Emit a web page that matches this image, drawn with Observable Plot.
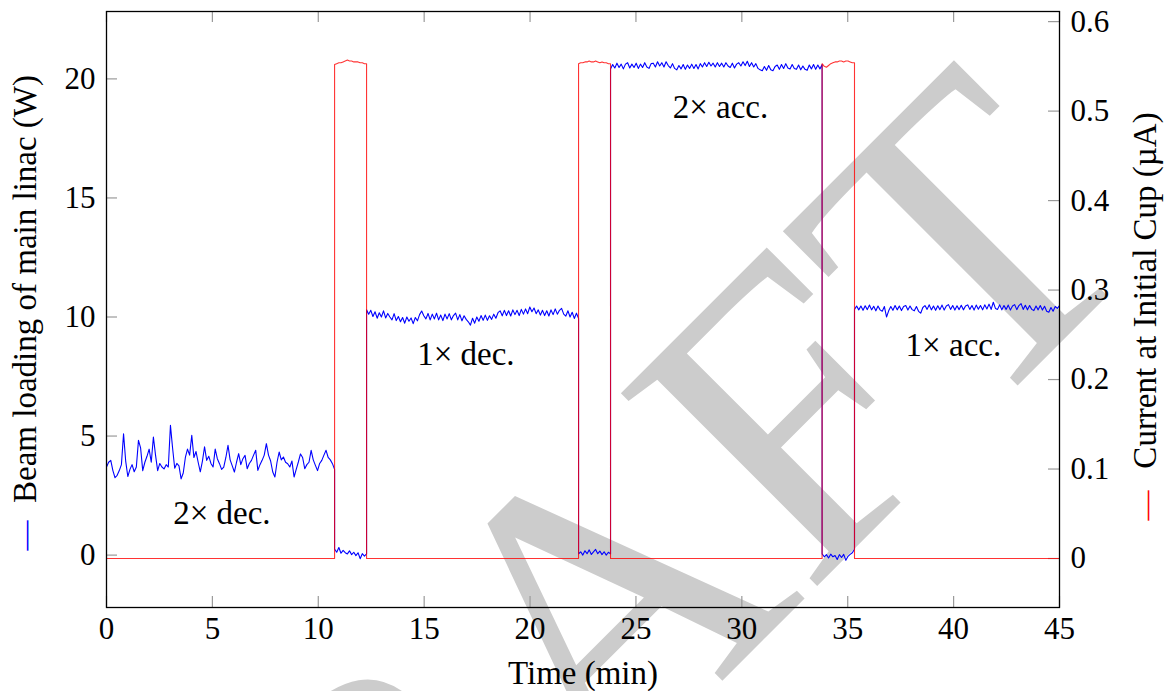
<!DOCTYPE html>
<html>
<head>
<meta charset="utf-8">
<script src="https://cdn.jsdelivr.net/npm/d3@7"></script>
<script src="https://cdn.jsdelivr.net/npm/@observablehq/plot@0.6"></script>
<style>
  html, body { margin: 0; padding: 0; background: #ffffff; }
  #chart { width: 1169px; height: 691px; }
</style>
</head>
<body>
<div id="chart"></div>
<script>
// ---------- axes / ticks ----------
const xTicks = [0, 5, 10, 15, 20, 25, 30, 35, 40, 45];
const leftTicks = [0, 5, 10, 15, 20];
const rightTicks = [0, 0.1, 0.2, 0.3, 0.4, 0.5, 0.6];
const xDomain = [0, 45];
const yDomain = [-2.2, 22.83];           // W (left axis)
const rightScale = 37.58;                // W per µA
const rightOffset = -0.143;              // W at 0 µA

// ---------- labels ----------
const xLabel = "Time (min)";
const leftLabel = "Beam loading of main linac (W)";
const rightLabel = "Current at Initial Cup (µA)";
const watermark = ["DRAFT"];
const annotText = ["2× dec.", "1× dec.", "2× acc.", "1× acc."];
const annotX = [5.45, 16.97, 28.99, 39.99];
const annotY = [1.74, 8.42, 18.78, 8.80];

// ---------- transition times (min) ----------
const tOn1 = 10.77, tOff1 = 12.28;
const tOn2 = 22.29, tOff2 = 23.80;
const tOn3 = 33.79, tOff3 = 35.32;

// ---------- blue: beam loading (W), read segment by segment ----------
const blueSeg1 = [3.70,3.90,3.98,3.55,3.25,3.35,3.55,3.80,5.10,3.95,3.30,3.60,3.80,3.50,3.70,4.82,4.50,3.55,3.90,4.15,
  4.45,3.90,4.96,4.20,3.55,3.85,3.70,3.62,3.80,3.70,5.45,4.50,3.65,3.85,3.75,3.20,3.45,4.10,4.45,4.20,
  5.03,4.10,4.35,3.90,3.50,3.95,4.55,3.98,4.15,3.85,3.70,4.45,4.05,3.84,3.60,3.70,4.10,4.61,4.00,3.75,
  3.49,3.90,4.26,3.80,4.05,4.19,3.63,3.85,3.98,4.20,4.40,3.56,3.80,3.98,4.20,4.68,4.20,3.95,3.49,3.28,
  3.90,4.33,4.00,4.12,3.90,3.84,3.70,3.95,3.28,3.60,3.91,4.25,4.10,3.63,3.80,3.90,4.40,4.00,3.77,3.55,
  3.85,3.98,4.20,4.40,4.10,4.00,3.84,3.60];
const bluePulse1 = [0.25,0.12,0.32,0.08,0.20,0.10,0.05,0.18,0.02,0.12,-0.02,0.10,-0.15,0.06,-0.04,0.05];
const blueSeg2 = [10.30,10.12,10.28,10.02,10.22,9.95,10.18,10.00,10.26,9.96,
  10.15,10.00,9.88,10.14,9.85,10.02,9.80,9.98,9.74,10.00,
  9.82,9.96,9.72,9.98,9.84,10.10,10.25,10.05,9.92,10.15,
  9.88,10.12,9.92,10.16,9.88,10.08,9.85,10.12,9.92,10.14,
  9.88,10.06,10.16,9.88,10.10,9.84,10.05,9.90,9.80,9.66,
  9.95,9.74,10.00,9.82,10.06,9.86,10.08,9.86,10.05,9.90,
  10.12,9.95,10.18,10.26,10.05,10.28,10.06,10.26,10.04,10.30,
  10.10,10.28,10.06,10.32,10.12,10.34,10.14,10.42,10.22,10.38,
  10.14,10.30,10.08,10.28,10.06,10.26,10.04,10.30,10.10,10.34,
  10.12,10.28,10.36,10.12,10.04,10.26,10.00,10.20,9.94,10.16,9.95];
const bluePulse2 = [0.05,0.14,0.00,0.18,0.06,0.22,0.03,0.14,0.24,0.06,0.17,0.02,0.14,0.00,0.12,0.05];
const blueSeg3 = [20.42,20.60,20.46,20.66,20.48,20.62,20.42,20.62,20.68,20.46,
  20.62,20.48,20.66,20.44,20.62,20.48,20.68,20.50,20.44,20.64,
  20.66,20.50,20.72,20.54,20.68,20.50,20.72,20.56,20.46,20.64,
  20.44,20.38,20.56,20.42,20.60,20.40,20.58,20.44,20.62,20.44,
  20.60,20.42,20.64,20.50,20.68,20.52,20.70,20.54,20.66,20.50,
  20.68,20.52,20.66,20.50,20.68,20.54,20.48,20.66,20.46,20.62,
  20.68,20.54,20.72,20.56,20.74,20.52,20.68,20.50,20.64,20.44,
  20.38,20.34,20.52,20.36,20.56,20.38,20.34,20.52,20.58,20.40,
  20.60,20.44,20.64,20.46,20.42,20.60,20.44,20.40,20.58,20.38,
  20.54,20.40,20.36,20.58,20.42,20.60,20.40,20.58,20.42,20.60];
const bluePulse3 = [0.05,-0.07,0.02,-0.12,0.04,-0.07,-0.02,-0.18,0.02,-0.10,0.03,-0.22,-0.05,0.03,0.10,0.25];
const blueSeg4 = [10.32,10.46,10.30,10.46,10.28,10.47,10.31,10.50,10.30,10.45,
  10.26,10.46,10.30,10.24,10.44,10.00,10.26,10.44,10.28,10.48,
  10.30,10.46,10.27,10.44,10.48,10.29,10.46,10.31,10.26,10.44,
  10.24,10.16,10.40,10.48,10.32,10.51,10.30,10.46,10.28,10.47,
  10.31,10.50,10.29,10.46,10.52,10.32,10.48,10.29,10.47,10.31,
  10.49,10.30,10.46,10.51,10.32,10.48,10.29,10.50,10.33,10.48,
  10.30,10.51,10.34,10.54,10.32,10.62,10.36,10.32,10.51,10.30,
  10.48,10.32,10.50,10.29,10.46,10.52,10.31,10.48,10.56,10.32,
  10.49,10.30,10.48,10.32,10.27,10.46,10.30,10.48,10.29,10.45,
  10.24,10.20,10.40,10.24,10.44,10.36,10.48];

// ---------- red: current at initial cup (µA) ----------
const redBase = 0;
const redPulse1 = [0.552,0.553,0.554,0.554,0.555,0.556,0.557,0.556,0.556,0.555,0.555,0.555,0.554,0.554,0.553,0.553];
const redPulse2 = [0.553,0.554,0.554,0.555,0.555,0.556,0.555,0.555,0.556,0.555,0.554,0.555,0.554,0.554,0.553,0.553];
const redPulse3 = [0.553,0.550,0.549,0.551,0.553,0.554,0.555,0.555,0.556,0.556,0.555,0.556,0.556,0.555,0.554,0.554];

// ---------- build tables ----------
function seg(t0, t1, vals, key) {
  const n = vals.length;
  return vals.map((v, i) => ({ t: t0 + (t1 - t0) * i / (n - 1), [key]: v }));
}
const blueData = [
  ...seg(0, tOn1, blueSeg1, "w"),
  ...seg(tOn1, tOff1, bluePulse1, "w"),
  ...seg(tOff1, tOn2, blueSeg2, "w"),
  ...seg(tOn2, tOff2, bluePulse2, "w"),
  ...seg(tOff2, tOn3, blueSeg3, "w"),
  ...seg(tOn3, tOff3, bluePulse3, "w"),
  ...seg(tOff3, 45, blueSeg4, "w")
];
const redData = [
  { t: 0, v: redBase }, { t: tOn1, v: redBase },
  ...seg(tOn1, tOff1, redPulse1, "v"),
  { t: tOff1, v: redBase }, { t: tOn2, v: redBase },
  ...seg(tOn2, tOff2, redPulse2, "v"),
  { t: tOff2, v: redBase }, { t: tOn3, v: redBase },
  ...seg(tOn3, tOff3, redPulse3, "v"),
  { t: tOff3, v: redBase }, { t: 45, v: redBase }
];
const toW = v => rightScale * v + rightOffset;
const annots = annotText.map((s, i) => ({ s, x: annotX[i], y: annotY[i] }));

// ---------- layout ----------
const W = 1169, H = 691, mL = 106, mR = 110, mT = 11, mB = 84;
const tickPx = 11;
const xPerPx = (xDomain[1] - xDomain[0]) / (W - mL - mR);
const yPerPx = (yDomain[1] - yDomain[0]) / (H - mT - mB);
const tx = tickPx * xPerPx, ty = tickPx * yPerPx;
const tickColor = "#9a9a9a";
const serif = "Liberation Serif";

const plot = Plot.plot({
  width: W, height: H,
  marginLeft: mL, marginRight: mR, marginTop: mT, marginBottom: mB,
  x: { domain: xDomain },
  y: { domain: yDomain },
  style: { fontFamily: serif, fontSize: "31px", background: "#ffffff", color: "#000" },
  marks: [
    Plot.text(watermark, { frameAnchor: "top-left", dx: 465, dy: 630, text: d => d, rotate: -45,
      fontSize: 420, fill: "#cccccc", textAnchor: "middle", lineAnchor: "middle", fontFamily: serif }),
    Plot.ruleX(xTicks, { x: d => d, y1: yDomain[0], y2: yDomain[0] + ty, stroke: tickColor, strokeWidth: 1.2 }),
    Plot.ruleX(xTicks, { x: d => d, y1: yDomain[1] - ty, y2: yDomain[1], stroke: tickColor, strokeWidth: 1.2 }),
    Plot.ruleY(leftTicks, { y: d => d, x1: xDomain[0], x2: xDomain[0] + tx, stroke: tickColor, strokeWidth: 1.2 }),
    Plot.ruleY(rightTicks, { y: d => toW(d), x1: xDomain[1] - tx, x2: xDomain[1], stroke: tickColor, strokeWidth: 1.2 }),
    Plot.line(blueData, { x: "t", y: "w", stroke: "#0000ff", strokeWidth: 1.1 }),
    Plot.line(redData, { x: "t", y: d => toW(d.v), stroke: "#ff0000", strokeWidth: 1.1, strokeOpacity: 0.8 }),
    Plot.frame({ stroke: "#000", strokeWidth: 1.3 }),
    Plot.axisX(xTicks, { anchor: "bottom", tickSize: 0, tickPadding: 9, label: null, fontFamily: serif }),
    Plot.axisY(leftTicks, { anchor: "left", tickSize: 0, tickPadding: 11, label: null, fontFamily: serif }),
    Plot.axisY(rightTicks.map(toW), { anchor: "right", tickSize: 0, tickPadding: 11, label: null, fontFamily: serif,
      tickFormat: d => String(+((d - rightOffset) / rightScale).toFixed(2)) }),
    Plot.text(annots, { x: "x", y: "y", text: "s", fontSize: 33, fontFamily: serif, textAnchor: "middle", lineAnchor: "middle", fill: "#000" }),
    Plot.text([xLabel], { frameAnchor: "bottom", dy: 66, text: d => d, fontSize: 33, fontFamily: serif, lineAnchor: "middle", fill: "#000" }),
    Plot.text([leftLabel], { frameAnchor: "left", dx: -80.6, dy: -20.5, rotate: -90, text: d => d, fontSize: 33, fontFamily: serif, lineAnchor: "middle", textAnchor: "middle", fill: "#000" }),
    Plot.text(["—"], { frameAnchor: "left", dx: -81, dy: 226, rotate: -90, text: d => d, fontSize: 30, fontFamily: serif, lineAnchor: "middle", textAnchor: "middle", fill: "#0000ff" }),
    Plot.text([rightLabel], { frameAnchor: "right", dx: 86, dy: -19, rotate: -90, text: d => d, fontSize: 33, fontFamily: serif, lineAnchor: "middle", textAnchor: "middle", fill: "#000" }),
    Plot.text(["—"], { frameAnchor: "right", dx: 87, dy: 196, rotate: -90, text: d => d, fontSize: 30, fontFamily: serif, lineAnchor: "middle", textAnchor: "middle", fill: "#ff0000" })
  ]
});
document.getElementById("chart").appendChild(plot);
</script>
</body>
</html>
